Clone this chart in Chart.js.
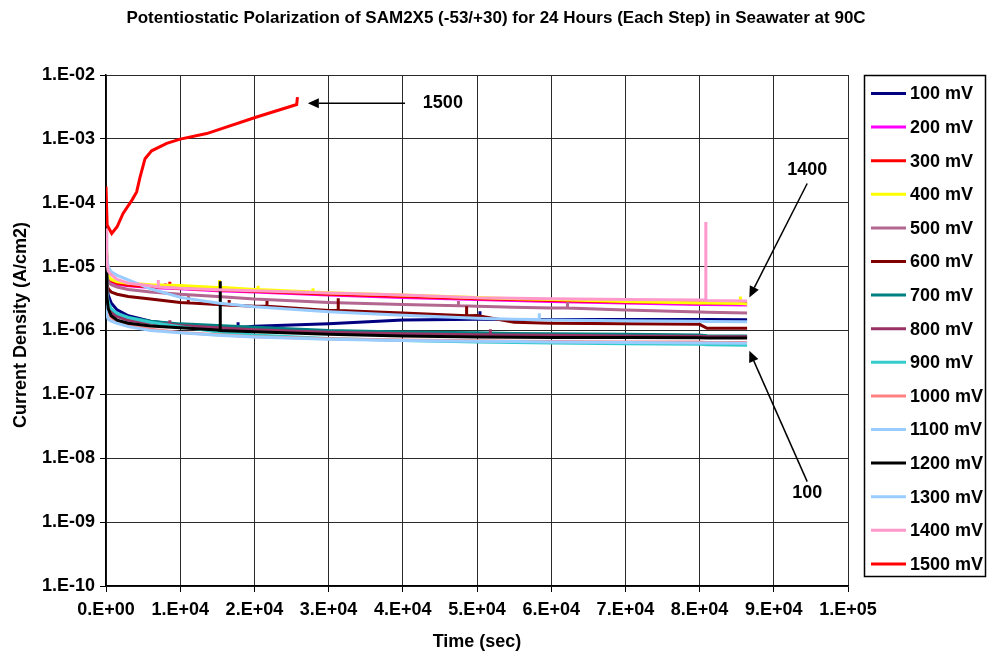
<!DOCTYPE html>
<html lang="en">
<head>
  <meta charset="UTF-8" />
  <title>Potentiostatic Polarization of SAM2X5</title>
  <script src="https://cdn.jsdelivr.net/npm/chart.js"></script>
  <style>
    html, body { margin: 0; padding: 0; background: #fff; }
    #wrap { position: relative; width: 987px; height: 653px; }
  </style>
</head>
<body>
  <div id="wrap"><canvas id="polChart" width="987" height="653"></canvas></div>

  <script>
    // shared time base (sec) for the 100..1400 mV steps
    const times = [0, 100, 300, 700, 1500, 3000, 6000, 10000, 15000, 20000, 30000, 40000, 50000, 55000, 60000, 70000, 80000, 81000, 86400];

    const stepLabels = ['100 mV', '200 mV', '300 mV', '400 mV', '500 mV', '600 mV', '700 mV', '800 mV',
      '900 mV', '1000 mV', '1100 mV', '1200 mV', '1300 mV', '1400 mV', '1500 mV'];
    const stepColors = ['#000080', '#ff00ff', '#ff0000', '#ffff00', '#b3668f', '#800000', '#008080', '#993366',
      '#33cccc', '#ff8080', '#99ccff', '#000000', '#99ccff', '#ff99cc', '#ff0000'];

    // current density (A/cm2)
    const mv100 = [1.1e-5, 5.0e-6, 3.6e-6, 2.7e-6, 2.1e-6, 1.7e-6, 1.4e-6, 1.22e-6, 1.08e-6, 1.17e-6, 1.28e-6, 1.46e-6, 1.5e-6, 1.49e-6, 1.49e-6, 1.48e-6, 1.48e-6, 1.48e-6, 1.47e-6];
    const mv200 = [1.5e-5, 8.0e-6, 6.5e-6, 5.8e-6, 5.3e-6, 5.0e-6, 4.7e-6, 4.5e-6, 4.2e-6, 4.0e-6, 3.6e-6, 3.3e-6, 3.05e-6, 2.95e-6, 2.85e-6, 2.7e-6, 2.55e-6, 2.55e-6, 2.5e-6];
    const mv300 = [1.6e-5, 8.5e-6, 6.8e-6, 6.0e-6, 5.5e-6, 5.1e-6, 4.8e-6, 4.6e-6, 4.3e-6, 4.1e-6, 3.7e-6, 3.4e-6, 3.15e-6, 3.05e-6, 2.95e-6, 2.8e-6, 2.7e-6, 2.7e-6, 2.65e-6];
    const mv400 = [1.8e-5, 9.0e-6, 7.2e-6, 6.3e-6, 5.8e-6, 5.5e-6, 5.2e-6, 5.05e-6, 4.7e-6, 4.4e-6, 3.9e-6, 3.6e-6, 3.3e-6, 3.15e-6, 3.05e-6, 2.85e-6, 2.7e-6, 2.7e-6, 2.6e-6];
    const mv500 = [1.2e-5, 7.0e-6, 5.8e-6, 5.2e-6, 4.8e-6, 4.4e-6, 4.0e-6, 3.7e-6, 3.4e-6, 3.1e-6, 2.75e-6, 2.55e-6, 2.4e-6, 2.32e-6, 2.25e-6, 2.1e-6, 1.95e-6, 1.93e-6, 1.88e-6];
    const mv600 = [9.0e-6, 5.5e-6, 4.5e-6, 4.0e-6, 3.7e-6, 3.4e-6, 3.1e-6, 2.75e-6, 2.55e-6, 2.4e-6, 2.05e-6, 1.88e-6, 1.72e-6, 1.35e-6, 1.3e-6, 1.27e-6, 1.25e-6, 1.08e-6, 1.08e-6];
    const mv700 = [7.0e-6, 3.5e-6, 2.6e-6, 2.1e-6, 1.8e-6, 1.6e-6, 1.4e-6, 1.27e-6, 1.2e-6, 1.12e-6, 1.0e-6, 0.95e-6, 0.92e-6, 0.9e-6, 0.89e-6, 0.87e-6, 0.85e-6, 0.83e-6, 0.82e-6];
    const mv800 = [6.0e-6, 3.0e-6, 2.3e-6, 1.9e-6, 1.65e-6, 1.45e-6, 1.3e-6, 1.2e-6, 1.1e-6, 1.03e-6, 0.94e-6, 0.89e-6, 0.86e-6, 0.85e-6, 0.84e-6, 0.82e-6, 0.81e-6, 0.8e-6, 0.8e-6];
    const mv900 = [8.0e-6, 4.0e-6, 2.8e-6, 2.2e-6, 1.85e-6, 1.6e-6, 1.35e-6, 1.15e-6, 0.95e-6, 0.85e-6, 0.75e-6, 0.7e-6, 0.66e-6, 0.65e-6, 0.64e-6, 0.62e-6, 0.61e-6, 0.6e-6, 0.59e-6];
    const mv1000 = [5.0e-6, 2.5e-6, 1.9e-6, 1.6e-6, 1.35e-6, 1.2e-6, 1.05e-6, 0.93e-6, 0.86e-6, 0.8e-6, 0.74e-6, 0.71e-6, 0.69e-6, 0.68e-6, 0.67e-6, 0.66e-6, 0.66e-6, 0.65e-6, 0.65e-6];
    const mv1100 = [3.0e-6, 1.8e-6, 1.5e-6, 1.4e-6, 1.3e-6, 1.15e-6, 1.0e-6, 0.92e-6, 0.84e-6, 0.79e-6, 0.73e-6, 0.7e-6, 0.68e-6, 0.67e-6, 0.66e-6, 0.65e-6, 0.64e-6, 0.64e-6, 0.63e-6];
    const mv1200 = [1.2e-5, 3.5e-6, 2.2e-6, 1.7e-6, 1.45e-6, 1.3e-6, 1.18e-6, 1.1e-6, 1.02e-6, 0.96e-6, 0.87e-6, 0.82e-6, 0.79e-6, 0.785e-6, 0.78e-6, 0.775e-6, 0.77e-6, 0.765e-6, 0.76e-6];
    const mv1300 = [3.5e-5, 1.4e-5, 1.0e-5, 8.3e-6, 7.3e-6, 6.2e-6, 4.5e-6, 3.3e-6, 2.7e-6, 2.35e-6, 1.97e-6, 1.74e-6, 1.55e-6, 1.5e-6, 1.46e-6, 1.42e-6, 1.39e-6, 1.38e-6, 1.37e-6];
    const mv1400 = [4.0e-5, 1.2e-5, 8.5e-6, 7.5e-6, 6.3e-6, 5.5e-6, 5.0e-6, 4.6e-6, 4.35e-6, 4.2e-6, 3.85e-6, 3.6e-6, 3.25e-6, 3.2e-6, 3.15e-6, 3.05e-6, 3.0e-6, 2.95e-6, 2.9e-6];

    // 1500 mV stopped early, has its own time base
    const times1500 = [0, 150, 770, 1500, 2300, 3500, 4130, 4580, 5260, 6150, 8180, 10000, 13570, 20300, 25700, 25800];
    const mv1500 = [1.8e-4, 4.5e-5, 3.3e-5, 4.2e-5, 6.8e-5, 1.1e-4, 1.48e-4, 2.5e-4, 4.9e-4, 6.5e-4, 8.5e-4, 9.9e-4, 1.21e-3, 2.2e-3, 3.45e-3, 4.5e-3];

    // short vertical glitches: series index, time, base, peak
    const spikeSeries = [0, 0, 1, 2, 3, 3, 3, 3, 4, 4, 5, 5, 5, 5, 5, 7, 7, 11, 12, 13, 13];
    const spikeTimes = [17800, 50400, 8000, 8600, 15300, 20500, 27900, 85500, 47500, 62200, 11100, 16600, 21700, 31300, 48600, 8600, 51800, 15400, 58400, 7050, 80840];
    const spikeBase = [1.1e-6, 1.5e-6, 4.6e-6, 4.7e-6, 4.75e-6, 4.4e-6, 4.0e-6, 2.65e-6, 2.45e-6, 2.25e-6, 2.7e-6, 2.5e-6, 2.4e-6, 2.05e-6, 1.7e-6, 1.25e-6, 0.86e-6, 1.0e-6, 1.48e-6, 4.8e-6, 3.0e-6];
    const spikePeak = [1.35e-6, 2.0e-6, 5.5e-6, 5.8e-6, 6.2e-6, 5.0e-6, 4.6e-6, 3.4e-6, 2.9e-6, 2.8e-6, 3.4e-6, 3.0e-6, 2.9e-6, 3.2e-6, 2.4e-6, 1.45e-6, 1.05e-6, 5.9e-6, 1.86e-6, 6.2e-6, 5.0e-5];

    const yTicks = [1e-10, 1e-9, 1e-8, 1e-7, 1e-6, 1e-5, 1e-4, 1e-3, 1e-2];
    const yTickLabels = ['1.E-10', '1.E-09', '1.E-08', '1.E-07', '1.E-06', '1.E-05', '1.E-04', '1.E-03', '1.E-02'];
    const xTicks = [0, 1e4, 2e4, 3e4, 4e4, 5e4, 6e4, 7e4, 8e4, 9e4, 1e5];
    const xTickLabels = ['0.E+00', '1.E+04', '2.E+04', '3.E+04', '4.E+04', '5.E+04', '6.E+04', '7.E+04', '8.E+04', '9.E+04', '1.E+05'];

    // callouts: label, text position, arrow start, arrow tip (data units)
    const noteLabels = ['1500', '1400', '100'];
    const noteTextX = [45400, 94500, 94500];
    const noteTextY = [3.6e-3, 3.3e-4, 2.9e-9];
    const noteFromX = [40300, 94500, 94500];
    const noteFromY = [3.6e-3, 2.0e-4, 4.3e-9];
    const noteToX = [27200, 86700, 86700];
    const noteToY = [3.6e-3, 3.3e-6, 4.8e-7];

    const FONT = "'Liberation Sans', Arial, Helvetica, sans-serif";

    const stepValues = [mv100, mv200, mv300, mv400, mv500, mv600, mv700, mv800, mv900, mv1000, mv1100, mv1200, mv1300, mv1400];

    function buildPoints(i) {
      const xs = i === 14 ? times1500 : times;
      const ys = i === 14 ? mv1500 : stepValues[i];
      const pts = xs.map((t, j) => ({ x: t, y: ys[j] }));
      spikeSeries.forEach((s, k) => {
        if (s !== i) return;
        pts.push({ x: spikeTimes[k], y: spikeBase[k] }, { x: spikeTimes[k], y: spikePeak[k] }, { x: spikeTimes[k], y: spikeBase[k] });
      });
      return pts.sort((a, b) => a.x - b.x);
    }

    const datasets = stepLabels.map((label, i) => ({
      label: label,
      data: buildPoints(i),
      borderColor: stepColors[i],
      backgroundColor: stepColors[i],
      borderWidth: 3,
      pointRadius: 0,
      tension: 0,
      fill: false,
      order: 20 - i // later steps on top, like the original
    }));

    const decorPlugin = {
      id: 'decor',
      afterDraw(chart) {
        const ctx = chart.ctx;
        const area = chart.chartArea;
        const xs = chart.scales.x, ys = chart.scales.y;
        ctx.save();
        ctx.fillStyle = '#000';
        ctx.textAlign = 'center';
        ctx.textBaseline = 'middle';

        ctx.font = 'bold 17px ' + FONT;
        ctx.fillText('Potentiostatic Polarization of SAM2X5 (-53/+30) for 24 Hours (Each Step) in Seawater at 90C', 496, 18);

        ctx.font = 'bold 18px ' + FONT;
        ctx.fillText('Time (sec)', (area.left + area.right) / 2, 642);
        ctx.save();
        ctx.translate(21, 325);
        ctx.rotate(-Math.PI / 2);
        ctx.fillText('Current Density (A/cm2)', 0, 0);
        ctx.restore();

        // callouts
        ctx.strokeStyle = '#000';
        ctx.lineWidth = 1.5;
        noteLabels.forEach((lab, i) => {
          const x1 = xs.getPixelForValue(noteFromX[i]), y1 = ys.getPixelForValue(noteFromY[i]);
          const x2 = xs.getPixelForValue(noteToX[i]), y2 = ys.getPixelForValue(noteToY[i]);
          const ang = Math.atan2(y2 - y1, x2 - x1);
          const head = 11, half = 5;
          const bx = x2 - head * Math.cos(ang), by = y2 - head * Math.sin(ang);
          ctx.beginPath();
          ctx.moveTo(x1, y1);
          ctx.lineTo(bx, by);
          ctx.stroke();
          ctx.beginPath();
          ctx.moveTo(x2, y2);
          ctx.lineTo(bx + half * Math.sin(ang), by - half * Math.cos(ang));
          ctx.lineTo(bx - half * Math.sin(ang), by + half * Math.cos(ang));
          ctx.closePath();
          ctx.fill();
          ctx.font = 'bold 18px ' + FONT;
          ctx.fillText(lab, xs.getPixelForValue(noteTextX[i]), ys.getPixelForValue(noteTextY[i]));
        });

        // legend box
        const lx = area.right + 16, ly = area.top, lw = 121, lh = 501;
        ctx.lineWidth = 1.5;
        ctx.strokeRect(lx + 0.5, ly + 0.5, lw, lh);
        ctx.textAlign = 'left';
        chart.data.datasets.forEach((ds, i) => {
          const y = ly + 18.5 + i * 33.6;
          ctx.strokeStyle = ds.borderColor;
          ctx.lineWidth = 3;
          ctx.beginPath();
          ctx.moveTo(lx + 7, y);
          ctx.lineTo(lx + 42, y);
          ctx.stroke();
          ctx.fillStyle = '#000';
          ctx.font = 'bold 18px ' + FONT;
          ctx.fillText(ds.label, lx + 46, y + 1);
        });
        ctx.restore();
      }
    };

    new Chart(document.getElementById('polChart'), {
      type: 'line',
      data: { datasets: datasets },
      options: {
        responsive: false,
        animation: false,
        layout: { padding: { left: 0, top: 75, right: 139, bottom: 0 } },
        plugins: {
          legend: { display: false },
          tooltip: { enabled: false },
          title: { display: false }
        },
        scales: {
          x: {
            type: 'linear',
            min: 0,
            max: 1e5,
            afterBuildTicks: scale => { scale.ticks = xTicks.map(v => ({ value: v })); },
            afterFit: scale => { scale.height = 67; },
            ticks: {
              callback: (v, i) => xTickLabels[i],
              color: '#000',
              font: { family: FONT, size: 18, weight: 'bold' },
              padding: 7,
              maxRotation: 0,
              autoSkip: false
            },
            grid: { color: '#2a2a2a', lineWidth: 1, tickLength: 6, tickColor: '#000' },
            border: { color: '#000', width: 1.5 }
          },
          y: {
            type: 'logarithmic',
            min: 1e-10,
            max: 1e-2,
            afterBuildTicks: scale => { scale.ticks = yTicks.map(v => ({ value: v, major: true })); },
            afterFit: scale => { scale.width = 106; },
            ticks: {
              callback: (v, i) => yTickLabels[i],
              color: '#000',
              font: { family: FONT, size: 18, weight: 'bold' },
              padding: 5,
              autoSkip: false
            },
            grid: { color: '#2a2a2a', lineWidth: 1, tickLength: 6, tickColor: '#000' },
            border: { color: '#000', width: 1.5 }
          }
        }
      },
      plugins: [decorPlugin]
    });
  </script>
</body>
</html>
